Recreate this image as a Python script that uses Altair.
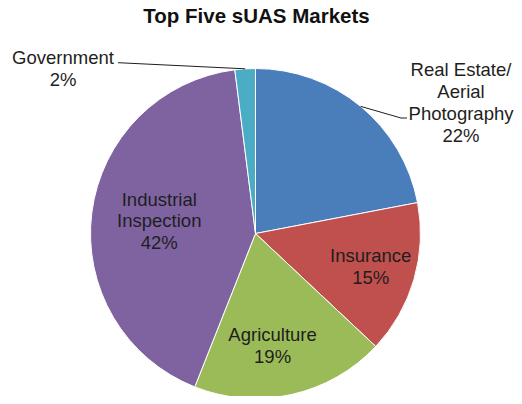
import altair as alt
import pandas as pd

title_text = "Top Five sUAS Markets"
names = ["Real Estate/\nAerial\nPhotography", "Insurance", "Agriculture",
         "Industrial\nInspection", "Government"]
shares = [22, 15, 19, 42, 2]
colors = ["#4a7ebb", "#c0504d", "#9bbb59", "#7f63a1", "#4bacc6"]

df = pd.DataFrame({"name": names, "share": shares, "idx": list(range(len(names)))})
title_df = pd.DataFrame({"t": [title_text]})

CX, CY, R = 247.5, 225.5, 165
FONT = "Liberation Sans"
TXT = "#1e1e1e"
LH = 21.8

base = alt.Chart(df).transform_window(
    cum="sum(share)", sort=[alt.SortField("idx", order="ascending")], frame=[None, 0]
).transform_joinaggregate(total="sum(share)").transform_calculate(
    mid="(datum.cum - datum.share / 2) / datum.total",
    label="datum.name + '\\n' + datum.share + '%'",
)


def at_radius(ch, r):
    return ch.transform_calculate(
        px=f"{CX} + {r} * sin(2 * PI * datum.mid)",
        py=f"{CY} - {r} * cos(2 * PI * datum.mid)",
    )


lab = dict(font=FONT, fontSize=18.5, lineBreak="\n", lineHeight=LH,
           align="center", baseline="middle", color=TXT)


def nlines(name):
    return name.count("\n") + 2


pie = alt.Chart(df).mark_arc(outerRadius=R, stroke="white", strokeWidth=1).encode(
    theta=alt.Theta("share:Q", stack=True),
    color=alt.Color("name:N", scale=alt.Scale(domain=names, range=colors), legend=None),
    order=alt.Order("idx:Q"),
    x=alt.value(CX),
    y=alt.value(CY),
)


def inner(name, r, dx=0, dy=0):
    off = -(nlines(name) - 1) * LH / 2
    return at_radius(base.transform_filter(alt.datum.name == name), r).mark_text(
        dx=dx, dy=dy + off, **lab
    ).encode(
        x=alt.X("px:Q", scale=None, axis=None),
        y=alt.Y("py:Q", scale=None, axis=None),
        text="label:N",
    )


def outer(name, x, y):
    off = -(nlines(name) - 1) * LH / 2
    return base.transform_filter(alt.datum.name == name).mark_text(dy=off, **lab).encode(
        x=alt.value(x), y=alt.value(y), text="label:N"
    )


def leader(name, x2, y2):
    return at_radius(base.transform_filter(alt.datum.name == name), R).mark_rule(
        color=TXT, strokeWidth=1
    ).encode(
        x=alt.X("px:Q", scale=None, axis=None),
        y=alt.Y("py:Q", scale=None, axis=None),
        x2=alt.value(x2),
        y2=alt.value(y2),
    )


tick = base.transform_filter(alt.datum.name == names[0]).mark_rule(
    color=TXT, strokeWidth=1
).encode(x=alt.value(393), x2=alt.value(399), y=alt.value(110), y2=alt.value(110))

title = alt.Chart(title_df).mark_text(
    font=FONT, fontSize=20.5, fontWeight="bold", color="#111111",
    align="center", baseline="alphabetic"
).encode(x=alt.value(248.5), y=alt.value(15), text="t:N")

chart = alt.layer(
    pie,
    inner(names[3], 97),
    inner(names[1], 120),
    inner(names[2], 115, dx=-8),
    outer(names[4], 55, 61.3),
    outer(names[0], 453, 95),
    leader(names[4], 110, 54.7),
    leader(names[0], 393, 110),
    tick,
    title,
).properties(
    width=506, height=388, autosize=alt.AutoSizeParams(type="none"), padding=0
).configure_view(stroke=None)

chart.save("out.html", embed_options={"renderer": "svg", "actions": False})
